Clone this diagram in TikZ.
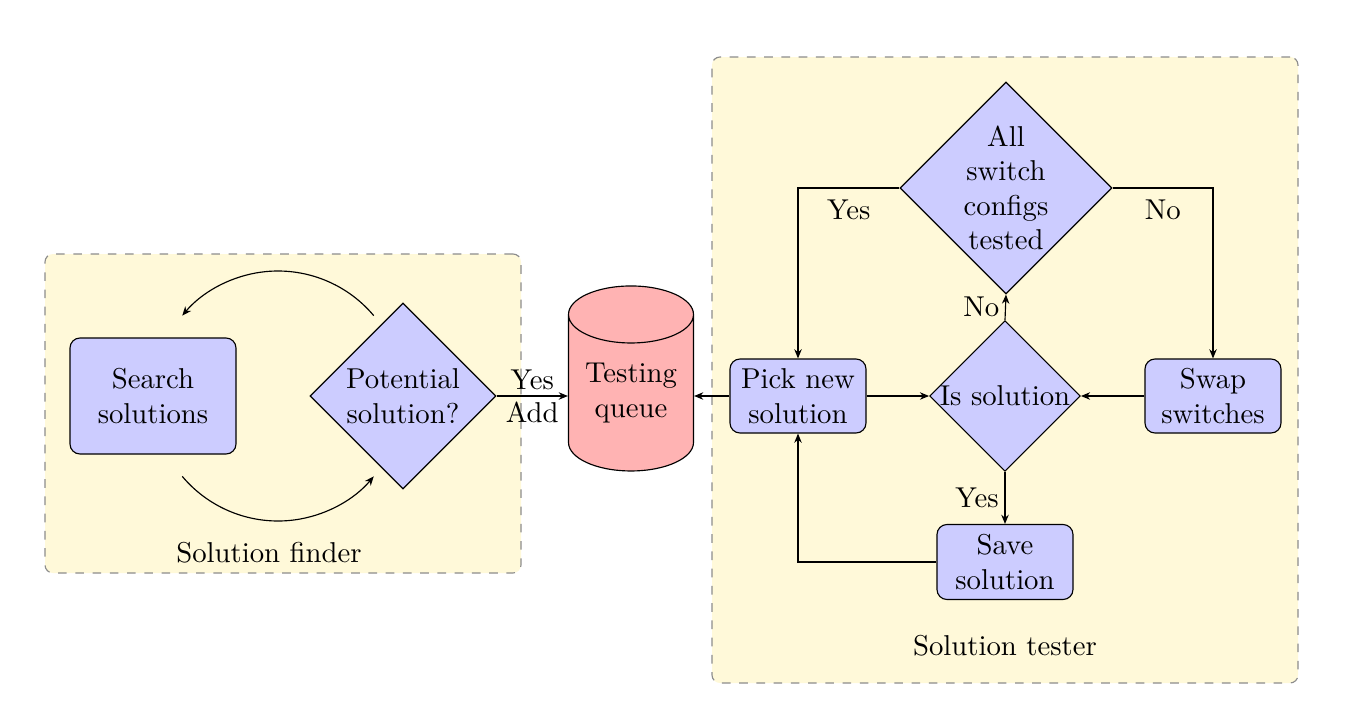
\documentclass[tikz,border=0pt]{standalone}
\usetikzlibrary{shapes.geometric,arrows.meta,calc}
\newdimen\pxu
\pxu=0.348pt
\definecolor{groupfill}{RGB}{255,249,217}
\definecolor{groupline}{RGB}{140,140,140}
\definecolor{boxfill}{RGB}{204,204,255}
\definecolor{cylfill}{RGB}{255,179,179}
\tikzset{
  grp/.style={draw=groupline, fill=groupfill, dashed, rounded corners=8*\pxu, inner sep=0pt},
  procbox/.style={draw=black, fill=boxfill, rectangle, rounded corners=10*\pxu, align=center, inner sep=0pt},
  decbox/.style={draw=black, fill=boxfill, diamond, aspect=1, align=center, inner sep=0pt},
  conn/.style={-{Stealth[length=3.2pt,width=2.6pt]}},
  lbl/.style={inner sep=2pt},
  lblb/.style={inner sep=4pt}
}
\begin{document}
\begin{tikzpicture}[x=0.348pt, y=-0.348pt]
\useasboundingbox (0,0) rectangle (1361,723);
% group boxes
\node[grp, minimum width=476*\pxu, minimum height=319*\pxu] (gfind) at (283,413.5) {};
\node[grp, minimum width=586*\pxu, minimum height=626*\pxu] (gtest) at (1005,370) {};
\node (tfind) at (269,553) {Solution finder};
\node (ttest) at (1005,646) {Solution tester};
% left nodes
\node[procbox, minimum width=166*\pxu, minimum height=116*\pxu] (search) at (153,396) {Search\\solutions};
\node[decbox, minimum width=186*\pxu, minimum height=186*\pxu] (pot) at (403,396) {Potential\\solution?};
\coordinate (loopc) at (278,396);
\draw[conn] ($(loopc)+(40:125*\pxu)$) arc[start angle=40, end angle=140, radius=125*\pxu];
\draw[conn] ($(loopc)+(220:125*\pxu)$) arc[start angle=220, end angle=320, radius=125*\pxu];
% queue
\node[draw=black, fill=cylfill, cylinder, shape border rotate=90, aspect=0.62, minimum width=125*\pxu, minimum height=185*\pxu, align=center, inner sep=0pt] (queue) at (631,393) {Testing\\queue};
\draw[conn] (pot.east) -- node[above, lbl] {Yes} node[below, lbl] {Add} (pot.east -| queue.west);
% right nodes
\node[decbox, minimum width=212*\pxu, minimum height=212*\pxu] (allsw) at (1006,188) {All\\switch\\configs\\tested};
\node[decbox, minimum width=150*\pxu, minimum height=150*\pxu] (issol) at (1005,396) {Is solution};
\node[procbox, minimum width=136*\pxu, minimum height=74*\pxu] (pick) at (798,396) {Pick new\\solution};
\node[procbox, minimum width=136*\pxu, minimum height=74*\pxu] (swap) at (1213,396) {Swap\\switches};
\node[procbox, minimum width=136*\pxu, minimum height=75*\pxu] (save) at (1005,562) {Save\\solution};
\draw[conn] (pick.west) -- (pick.west -| queue.east);
\draw[conn] (pick.east) -- (issol.west);
\draw[conn] (swap.west) -- (issol.east);
\draw[conn] (issol.north) -- node[left, lbl] {No} (allsw.south);
\draw[conn] (issol.south) -- node[left, lbl] {Yes} (save.north);
\draw[conn] (allsw.west) -| node[pos=0.25, below, lblb] {Yes} (pick.north);
\draw[conn] (allsw.east) -| node[pos=0.25, below, lblb] {No} (swap.north);
\draw[conn] (save.west) -| (pick.south);
\end{tikzpicture}
\end{document}
